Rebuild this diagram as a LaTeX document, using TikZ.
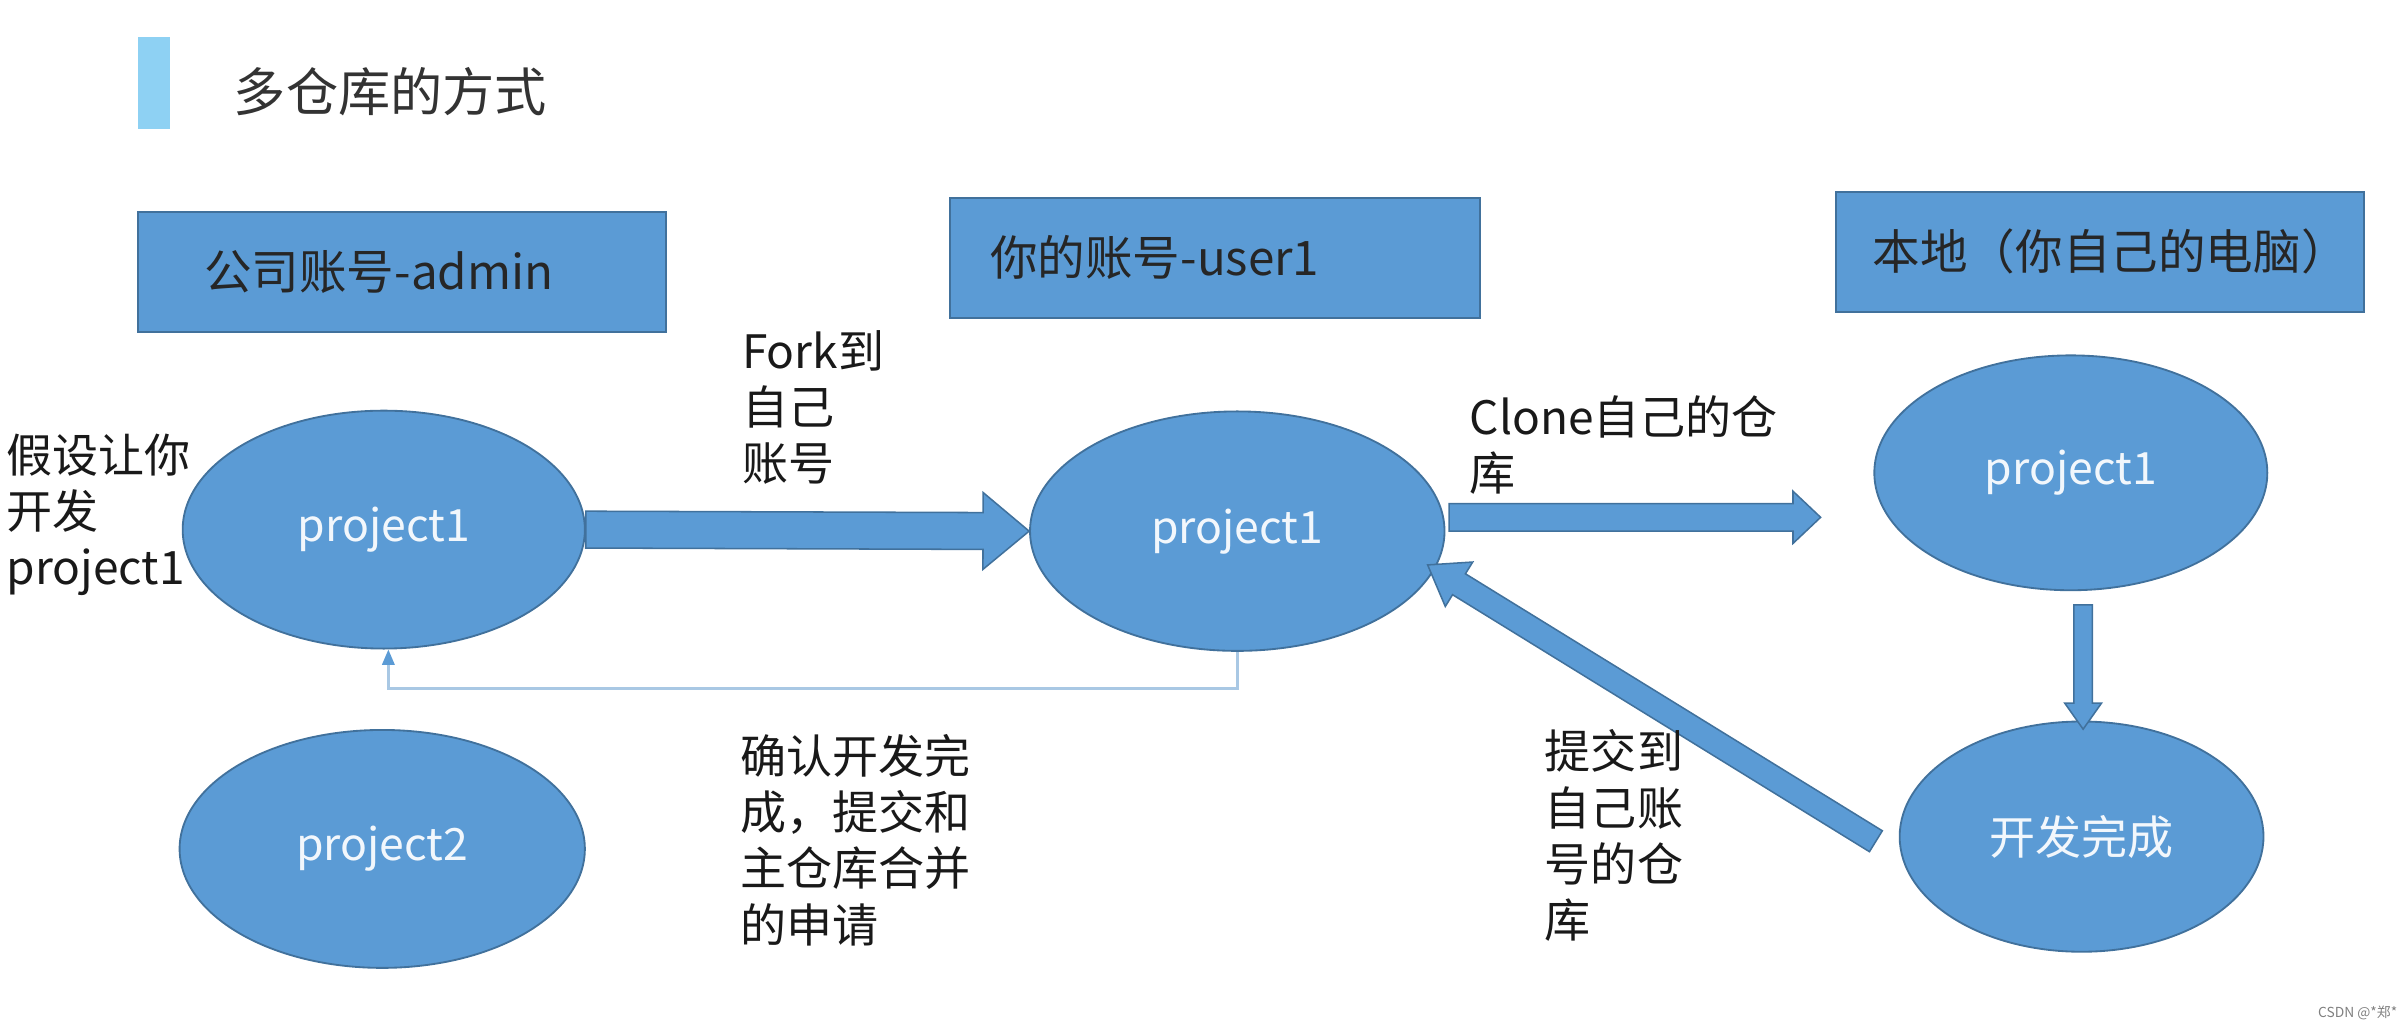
\documentclass[tikz,border=0pt]{standalone}
\usepackage{fontspec}
\setmainfont{Noto Sans CJK SC}
\usetikzlibrary{shapes,arrows,positioning,calc,arrows.meta}

\definecolor{blueshape}{HTML}{5B9BD5}
\definecolor{blueline}{HTML}{41719C}
\definecolor{lightbar}{HTML}{8ED1F3}
\definecolor{fbline}{HTML}{A9C8E4}

\tikzset{
    acct/.style={draw=blueline, line width=0.6pt, fill=blueshape, minimum height=39pt, align=left, inner ysep=0pt, font=\fontsize{15.5}{19}\selectfont, text=black!85},
    repo/.style={ellipse, draw=blueline, line width=0.6pt, fill=blueshape, inner sep=0pt, text=white!92!blueshape, font=\fontsize{14.5}{18}\selectfont},
    note/.style={anchor=north west, align=left, inner sep=0pt, text=black!90, font=\fontsize{15}{18.3}\selectfont},
    bigarrow/.style={fill=blueshape, draw=blueline, line width=0.5pt, line join=miter},
    feedback/.style={draw=fbline, line width=0.8pt, -{Triangle[width=4pt,length=5pt,color=blueshape]}}
}

% tail, head, shaft half width, head half width, head length
\newcommand{\blockarrow}[5]{
    \coordinate (neck) at ($(#2)!#5!(#1)$);
    \filldraw[bigarrow] ($(#1)!#3!90:(#2)$) -- ($(neck)!#3!90:(#2)$) -- ($(neck)!#4!90:(#2)$) -- (#2)
        -- ($(neck)!#4!-90:(#2)$) -- ($(neck)!#3!-90:(#2)$) -- ($(#1)!#3!-90:(#2)$) -- cycle;
}

\begin{document}
\begin{tikzpicture}[x=0.5pt, y=-0.5pt]
    \useasboundingbox (0,0) rectangle (1568,670);

    \fill[lightbar] (90,24) rectangle (111,84);
    \node[anchor=west, inner sep=0pt, font=\fontsize{17}{20}\selectfont, text=black!80] (title) at (152,60) {多仓库的方式};

    \node[acct, text width=129pt, inner xsep=21.5pt] (admin) at (262,177) {公司账号-admin};
    \node[acct, text width=146.5pt, inner xsep=13pt] (user) at (791.5,168) {你的账号-user1};
    \node[acct, text width=148pt, inner xsep=12pt] (local) at (1368,164) {本地（你自己的电脑）};

    \node[repo, minimum width=131pt, minimum height=77.5pt] (adminp1) at (250,345) {project1};
    \node[repo, minimum width=132pt, minimum height=77.5pt] (adminp2) at (249,553) {project2};
    \node[repo, minimum width=135pt, minimum height=78pt] (userp1) at (806,346) {project1};
    \node[repo, minimum width=128pt, minimum height=76.5pt] (localp1) at (1349,308) {project1};
    \node[repo, minimum width=118.5pt, minimum height=75pt, font=\fontsize{15}{18}\selectfont] (done) at (1356,545) {开发完成};

    \coordinate (clonetail) at (944,337);
    \coordinate (clonehead) at (1186,337);
    \coordinate (downtail) at (1357,394);
    \coordinate (downhead) at (1357,475);
    \coordinate (pushtail) at (1222,548);
    \coordinate (pushhead) at (930,368);

    \blockarrow{adminp1.east}{userp1.west}{6pt}{12.5pt}{15pt}
    \blockarrow{clonetail}{clonehead}{4.5pt}{8.5pt}{9pt}
    \blockarrow{downtail}{downhead}{3pt}{6pt}{8.5pt}
    \blockarrow{pushtail}{pushhead}{4pt}{8.5pt}{12pt}

    \draw[feedback] (userp1.south) -- ++(0,24) -| ($(adminp1.south)+(3,0)$);

    \node[note] (assume) at (4,282) {假设让你\\开发\\project1};
    \node[note] (fork) at (483,215) {Fork到\\自己\\账号};
    \node[note] (clone) at (957,257) {Clone自己的仓\\库};
    \node[note] (request) at (482,478) {确认开发完\\成，提交和\\主仓库合并\\的申请};
    \node[note] (push) at (1006,475) {提交到\\自己账\\号的仓\\库};

    \node[anchor=east, inner sep=0pt, font=\fontsize{4.5}{5}\selectfont, text=black!50] (mark) at (1562,660) {CSDN @*郑*};
\end{tikzpicture}
\end{document}
